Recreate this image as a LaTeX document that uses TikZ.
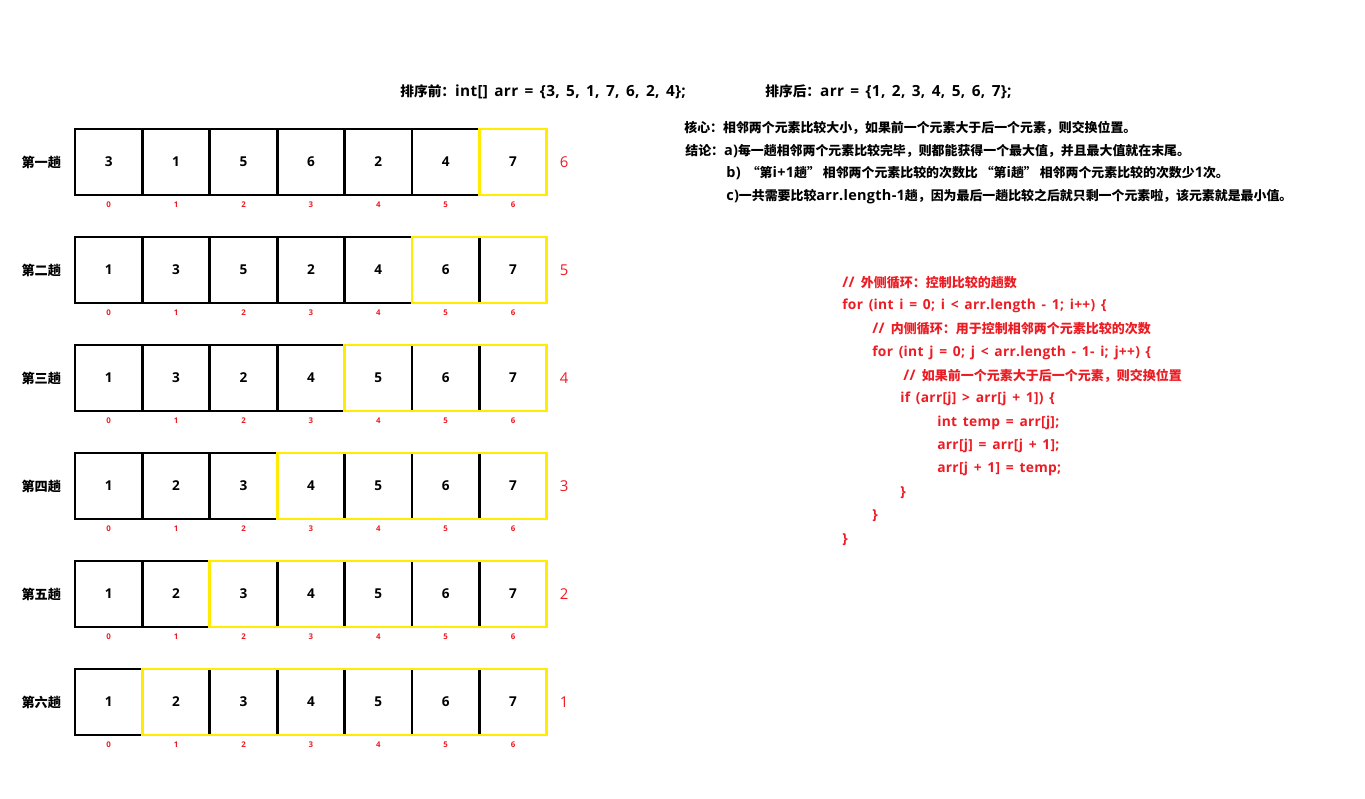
\documentclass[tikz,border=0pt]{standalone}
\usepackage{fontspec}
\setmainfont{Open Sans}[Scale=1.12, WordSpace=1.5, LetterSpace=2]
\newfontfamily\cjk{Noto Sans CJK SC}
\usetikzlibrary{positioning}
\definecolor{hlyellow}{RGB}{255,236,0}
\definecolor{codered}{RGB}{236,28,36}

\tikzset{
    cell/.style={draw, line width=1.5pt, outer sep=0pt, inner sep=0pt,
        minimum width=1.348cm, minimum height=1.32cm,
        font=\bfseries\fontsize{6.9}{9}\selectfont},
    hl/.style={draw=hlyellow, line width=1.5pt},
    idx/.style={text=codered, inner sep=1pt, font=\bfseries\fontsize{4}{5}\selectfont},
    rowlab/.style={font=\cjk\bfseries\fontsize{7.5}{9}\selectfont},
    cnt/.style={text=codered, font=\fontsize{7.6}{9}\selectfont},
    title/.style={anchor=west, inner sep=0pt, font=\bfseries\fontsize{7.8}{10}\selectfont},
    note/.style={anchor=west, inner sep=0pt, font=\bfseries\fontsize{7.35}{9}\selectfont},
    codeline/.style={anchor=west, inner sep=0pt, text=codered, font=\bfseries\fontsize{7}{9}\selectfont},
    codecjk/.style={codeline, font=\bfseries\fontsize{7.4}{9}\selectfont}
}

\begin{document}
\begin{tikzpicture}[x=0.02cm, y=-0.02cm]
        \useasboundingbox (0,0) rectangle (1365,798);
        % Headline
        \node [title] (before) at (400,92) {{\cjk 排序前：}int[] arr = \{3, 5, 1, 7, 6, 2, 4\};};
        \node [title] (after) at (765,92) {{\cjk 排序后：}arr = \{1, 2, 3, 4, 5, 6, 7\};};
        % One row of cells per pass, sorted tail in yellow
        \foreach \r/\name/\vals/\s in {1/第一趟/{3,1,5,6,2,4,7}/6,
                                     2/第二趟/{1,3,5,2,4,6,7}/5,
                                     3/第三趟/{1,3,2,4,5,6,7}/4,
                                     4/第四趟/{1,2,3,4,5,6,7}/3,
                                     5/第五趟/{1,2,3,4,5,6,7}/2,
                                     6/第六趟/{1,2,3,4,5,6,7}/1}
        {
        \foreach \v [count=\c from 0] in \vals
            {
            \node [cell] (c\r-\c) at ({108.7+67.4*\c},{162+108*(\r-1)}) {\v};
            \node [idx, below=2.5pt of c\r-\c] (i\r-\c) {\c};
            }
        \draw [hl] (c\r-\s.north west) rectangle (c\r-6.south east);
        \node [rowlab, left=4pt of c\r-0] (p\r) {\name};
        \node [cnt, right=3.5pt of c\r-6] (k\r) {\s};
        }
        % Notes
        \node [note] (core) at (684,128) {\cjk 核心：相邻两个元素比较大小，如果前一个元素大于后一个元素，则交换位置。};
        \node [note] (resa) at (685,151) {{\cjk 结论：}a){\cjk 每一趟相邻两个元素比较完毕，则都能获得一个最大值，并且最大值就在末尾。}};
        \node [note] (resb) at (726,173) {b) {\cjk “第}i+1{\cjk 趟” 相邻两个元素比较的次数比 “第}i{\cjk 趟” 相邻两个元素比较的次数少}1{\cjk 次。}};
        \node [note] (resc) at (726,197) {c){\cjk 一共需要比较}arr.length-1{\cjk 趟，因为最后一趟比较之后就只剩一个元素啦，该元素就是最小值。}};
        % Code
        \node [codecjk] (l1) at (842,283) {// {\cjk 外侧循环：控制比较的趟数}};
        \node [codeline] (l2) at (842,306) {for (int i = 0; i < arr.length - 1; i++) \{};
        \node [codecjk] (l3) at (872,329) {// {\cjk 内侧循环：用于控制相邻两个元素比较的次数}};
        \node [codeline] (l4) at (872,353) {for (int j = 0; j < arr.length - 1- i; j++) \{};
        \node [codecjk] (l5) at (903,376) {// {\cjk 如果前一个元素大于后一个元素，则交换位置}};
        \node [codeline] (l6) at (900,399) {if (arr[j] > arr[j + 1]) \{};
        \node [codeline] (l7) at (937,423) {int temp = arr[j];};
        \node [codeline] (l8) at (937,446) {arr[j] = arr[j + 1];};
        \node [codeline] (l9) at (937,469) {arr[j + 1] = temp;};
        \node [codeline] (l10) at (900,493) {\}};
        \node [codeline] (l11) at (872,516) {\}};
        \node [codeline] (l12) at (842,540) {\}};
\end{tikzpicture}
\end{document}
